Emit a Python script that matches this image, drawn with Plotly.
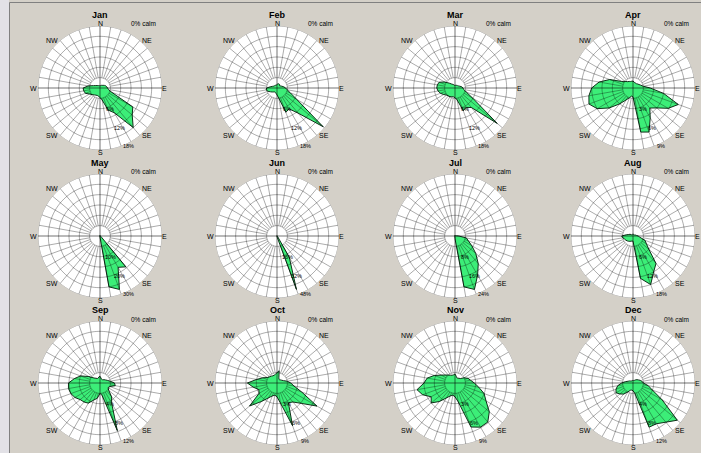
import numpy as np
import plotly.graph_objects as go

# ---------------- data ----------------
months = ["Jan", "Feb", "Mar", "Apr", "May", "Jun", "Jul", "Aug", "Sep", "Oct", "Nov", "Dec"]
directions = list(range(0, 360, 10))  # bearing in degrees

jan = [0.7, 0.7, 0.8, 0.9, 1.0, 1.2, 1.5, 1.8, 2.0, 2.2, 2.5, 3.6, 11.0, 12.2, 15.0, 8.3, 6.8, 3.5,
       2.8, 2.4, 2.3, 2.4, 2.6, 3.0, 3.5, 4.5, 4.8, 4.9, 3.5, 2.0, 1.4, 1.1, 0.9, 0.8, 0.7, 0.7]
feb = [1.0, 1.2, 1.3, 1.3, 1.2, 1.0, 1.2, 1.5, 2.0, 2.5, 3.0, 4.1, 6.6, 17.5, 9.5, 7.0, 7.5, 3.0,
       2.0, 1.6, 1.4, 1.3, 1.5, 1.8, 2.2, 2.8, 3.2, 3.0, 2.0, 1.4, 1.1, 1.0, 0.9, 0.9, 0.9, 0.9]
mar = [0.8, 0.8, 0.8, 0.9, 1.0, 1.0, 1.2, 1.5, 2.0, 2.3, 2.6, 3.5, 6.0, 16.0, 7.4, 6.5, 7.0, 3.5,
       2.8, 2.6, 2.7, 2.9, 3.0, 3.2, 3.8, 4.5, 5.0, 5.3, 5.2, 4.9, 3.5, 2.2, 1.5, 1.2, 1.0, 0.8]
apr = [1.0, 0.9, 0.8, 0.8, 0.8, 0.9, 1.0, 1.2, 1.5, 2.5, 4.5, 7.0, 5.9, 4.5, 3.8, 5.0, 6.8, 6.5,
       1.3, 1.2, 1.5, 2.0, 3.0, 4.5, 6.0, 6.8, 6.5, 6.0, 5.0, 3.6, 1.9, 1.5, 1.2, 1.1, 1.0, 1.0]
may = [0.2, 0.2, 0.2, 0.2, 0.2, 0.2, 0.2, 0.2, 0.2, 0.2, 0.2, 0.3, 0.5, 1.0, 19.5, 17.5, 27.5, 25.0,
       0.5, 0.2, 0.2, 0.2, 0.2, 0.2, 0.2, 0.2, 0.2, 0.2, 0.2, 0.2, 0.2, 0.2, 0.2, 0.2, 0.2, 0.2]
jun = [0.2, 0.2, 0.2, 0.2, 0.2, 0.2, 0.2, 0.2, 0.2, 0.2, 0.2, 0.2, 0.3, 0.5, 1.0, 19.0, 44.0, 1.0,
       0.3, 0.2, 0.2, 0.2, 0.2, 0.2, 0.2, 0.2, 0.2, 0.2, 0.2, 0.2, 0.2, 0.2, 0.2, 0.2, 0.2, 0.2]
jul = [0.2, 0.2, 0.2, 0.2, 0.2, 0.2, 0.2, 0.3, 0.5, 1.5, 4.5, 5.5, 7.5, 10.5, 14.0, 17.5, 22.0, 20.0,
       1.0, 0.3, 0.2, 0.2, 0.2, 0.2, 0.2, 0.2, 0.2, 0.2, 0.2, 0.2, 0.2, 0.2, 0.2, 0.2, 0.2, 0.2]
aug = [0.5, 0.5, 0.5, 0.5, 0.5, 0.5, 0.6, 0.8, 1.0, 1.5, 2.0, 3.7, 4.5, 6.0, 10.4, 12.0, 15.0, 12.5,
       1.5, 1.5, 1.6, 1.8, 2.0, 2.2, 2.4, 2.6, 3.0, 3.3, 2.0, 1.3, 1.0, 0.6, 0.5, 0.5, 0.5, 0.5]
sep = [1.3, 1.0, 0.8, 0.8, 0.8, 1.0, 1.2, 1.5, 2.0, 2.8, 3.0, 2.0, 1.8, 2.2, 3.5, 4.5, 9.8, 2.5,
       2.0, 3.0, 3.5, 4.5, 4.8, 5.0, 5.6, 6.0, 6.2, 6.1, 5.0, 4.0, 2.5, 1.5, 1.2, 1.0, 1.0, 1.2]
oct_ = [1.5, 1.8, 0.8, 0.6, 0.6, 0.7, 0.8, 1.0, 1.5, 2.0, 2.5, 3.8, 6.7, 4.6, 3.6, 3.3, 6.6, 3.0,
        2.0, 1.8, 2.0, 2.5, 3.5, 5.2, 3.0, 2.8, 3.5, 4.3, 3.0, 2.2, 1.6, 1.4, 1.3, 1.2, 1.2, 1.3]
nov = [1.3, 1.0, 0.8, 0.8, 0.9, 1.0, 1.5, 2.0, 2.3, 2.8, 3.5, 4.5, 5.2, 6.5, 7.4, 7.4, 6.8, 2.8,
       2.0, 1.8, 2.0, 2.5, 3.5, 4.5, 4.0, 5.0, 5.6, 4.5, 4.1, 3.2, 2.3, 1.8, 1.5, 1.3, 1.2, 1.2]
dec = [0.5, 0.5, 0.5, 0.6, 0.8, 1.0, 1.2, 1.5, 1.8, 2.0, 3.0, 4.0, 6.5, 11.2, 9.9, 9.1, 9.1, 2.0,
       1.5, 1.4, 1.5, 2.0, 2.8, 3.3, 3.8, 3.5, 3.0, 2.2, 1.5, 1.0, 0.8, 0.6, 0.5, 0.5, 0.5, 0.5]

month_values = [jan, feb, mar, apr, may, jun, jul, aug, sep, oct_, nov, dec]
scale_max = [18, 18, 18, 9, 30, 48, 24, 18, 12, 9, 9, 12]   # outer ring, %
calm_pct = [0, 0, 0, 0, 0, 0, 0, 0, 0, 0, 0, 0]

compass_labels = ["N", "NE", "E", "SE", "S", "SW", "W", "NW"]
compass_theta = [0, 45, 90, 135, 180, 225, 270, 315]

# ---------------- layout / style ----------------
W, H = 701, 453
col_cx = [100, 277, 455, 633]
row_cy = [88, 236, 383]
RAD = 62
BG = "#D4D0C8"
GREEN = "#3CEE78"
OUTLINE = "#10301A"
GRID = "rgba(0,0,0,0.33)"
AXIS = "rgba(0,0,0,0.55)"
FONT = "Arial"
n_rings = 6
label_px = [65, 67, 64.5, 67, 64, 67.5, 67, 67.5]   # distance of compass labels from centre (px)
ring_label_bearing = 154

fig = go.Figure()
annotations = []
polars = {}

for i, (name, vals, m) in enumerate(zip(months, month_values, scale_max)):
    r_i, c_i = divmod(i, 4)
    cx, cy = col_cx[c_i], row_cy[r_i]
    sid = "polar" if i == 0 else f"polar{i + 1}"
    dom_x = [(cx - RAD) / W, (cx + RAD) / W]
    dom_y = [1 - (cy + RAD) / H, 1 - (cy - RAD) / H]
    xc = (dom_x[0] + dom_x[1]) / 2
    yc = (dom_y[0] + dom_y[1]) / 2
    polars[sid] = dict(
        domain=dict(x=dom_x, y=dom_y),
        bgcolor="white",
        angularaxis=dict(rotation=90, direction="clockwise", showgrid=False, showline=False,
                         showticklabels=False, ticks=""),
        radialaxis=dict(range=[0, m], showgrid=False, showline=False, showticklabels=False,
                        ticks=""),
    )

    # wind rose polygon
    fig.add_trace(go.Scatterpolar(
        r=vals + [vals[0]], theta=directions + [directions[0]], mode="lines",
        fill="toself", fillcolor=GREEN, line=dict(color=OUTLINE, width=1),
        subplot=sid, hoverinfo="skip", showlegend=False))

    # rings
    ring_vals = [m * k / n_rings for k in range(1, n_rings + 1)]
    tt = np.arange(0, 362, 2)
    rr, th = [], []
    for rv in ring_vals:
        rr += [rv] * len(tt) + [None]
        th += list(tt) + [None]
    fig.add_trace(go.Scatterpolar(r=rr, theta=th, mode="lines", line=dict(color=GRID, width=1),
                                  subplot=sid, hoverinfo="skip", showlegend=False))
    # spokes
    rr, th = [], []
    for d in directions:
        if d % 90 == 0:
            continue
        rr += [ring_vals[0], m, None]
        th += [d, d, None]
    fig.add_trace(go.Scatterpolar(r=rr, theta=th, mode="lines", line=dict(color=GRID, width=1),
                                  subplot=sid, hoverinfo="skip", showlegend=False))
    # main cross
    fig.add_trace(go.Scatterpolar(
        r=[m, 0, m, None, m, 0, m],
        theta=[0, 0, 180, None, 90, 90, 270], mode="lines",
        line=dict(color=AXIS, width=1), subplot=sid, hoverinfo="skip",
        showlegend=False))

    # ring value labels (every second ring)
    for k in (1, 2, 3):
        v = m * k / 3
        rpx = RAD * k / 3 + 2.7
        b = np.radians(ring_label_bearing)
        annotations.append(dict(x=xc, y=yc, xref="paper", yref="paper", text=f"{int(round(v))}%",
                                showarrow=False, xanchor="center", yanchor="middle",
                                xshift=rpx * np.sin(b), yshift=rpx * np.cos(b),
                                font=dict(family=FONT, size=5.5, color="black")))

    # compass labels
    for lab, t, rpx in zip(compass_labels, compass_theta, label_px):
        b = np.radians(t)
        annotations.append(dict(x=xc, y=yc, xref="paper", yref="paper", text=lab,
                                showarrow=False, xanchor="center", yanchor="middle",
                                xshift=rpx * np.sin(b), yshift=rpx * np.cos(b),
                                font=dict(family=FONT, size=7, color="black")))

    annotations.append(dict(x=xc, y=dom_y[1], xref="paper", yref="paper", text=f"<b>{name}</b>",
                            showarrow=False, xanchor="center", yanchor="middle", yshift=11,
                            font=dict(family=FONT, size=9, color="black")))
    annotations.append(dict(x=xc, y=dom_y[1], xref="paper", yref="paper",
                            text=f"{calm_pct[i]}% calm", showarrow=False, xanchor="center",
                            yanchor="middle", xshift=43, yshift=2,
                            font=dict(family=FONT, size=6.5, color="black")))

shapes = [
    dict(type="rect", xref="paper", yref="paper", x0=0, x1=9 / W, y0=0, y1=1,
         fillcolor="#E2E1E6", line=dict(width=0), layer="below"),
    dict(type="line", xref="paper", yref="paper", x0=9.5 / W, x1=9.5 / W, y0=0, y1=1 - 2.5 / H,
         line=dict(color="#808080", width=1)),
    dict(type="line", xref="paper", yref="paper", x0=9.5 / W, x1=1, y0=1 - 2.5 / H, y1=1 - 2.5 / H,
         line=dict(color="#808080", width=1)),
]

fig.update_layout(
    width=W, height=H, autosize=False,
    margin=dict(l=0, r=0, t=0, b=0, pad=0),
    paper_bgcolor=BG, plot_bgcolor=BG,
    showlegend=False, annotations=annotations, shapes=shapes,
    **polars,
)

fig.write_html("out.html", config={"displayModeBar": False},
               post_script="document.body.style.margin='0';document.body.style.overflow='hidden';")
